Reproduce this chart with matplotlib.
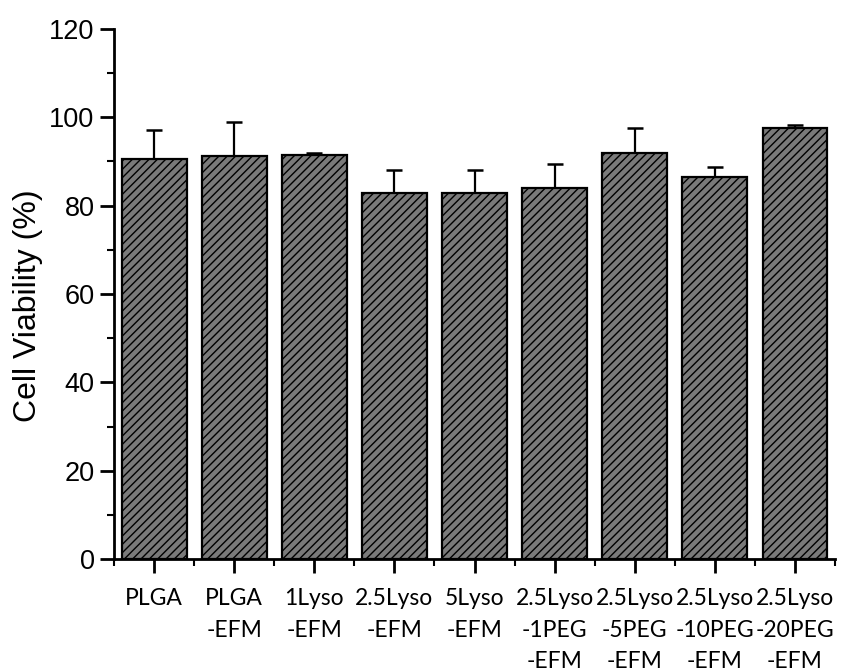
import matplotlib
matplotlib.use("Agg")
import matplotlib.pyplot as plt
import numpy as np

categories = ["PLGA", "PLGA\n-EFM", "1Lyso\n-EFM", "2.5Lyso\n-EFM", "5Lyso\n-EFM",
              "2.5Lyso\n-1PEG\n-EFM", "2.5Lyso\n-5PEG\n-EFM", "2.5Lyso\n-10PEG\n-EFM",
              "2.5Lyso\n-20PEG\n-EFM"]
viability = [90.5, 91.2, 91.5, 82.9, 82.9, 84.1, 91.9, 86.5, 97.6]
errors = [6.7, 7.8, 0.3, 5.2, 5.2, 5.3, 5.6, 2.2, 0.6]
yticks = [0, 20, 40, 60, 80, 100, 120]

plt.rcParams['hatch.linewidth'] = 1.0
fig = plt.figure(figsize=(8.42, 6.72), dpi=100)
ax = fig.add_axes([0.1354, 0.168, 0.8563, 0.789])

x = np.arange(len(categories))
ax.errorbar(x, viability, yerr=[np.zeros(len(errors)), errors], fmt='none',
            ecolor='black', elinewidth=1.6, capsize=6, capthick=1.8, zorder=1)
ax.bar(x, viability, width=0.81, color='#7a7a7a', edgecolor='black',
       linewidth=1.6, hatch='////', zorder=2)

ax.set_xlim(-0.5, len(categories) - 0.5)
ax.set_ylim(0, 120)
ax.set_yticks(yticks)
ax.set_yticks(np.arange(10, 120, 20), minor=True)
ax.set_xticks(x)
ax.set_xticks(np.arange(-0.5, len(categories), 1.0), minor=True)
ax.set_xticklabels(categories, family=['Lato', 'DejaVu Sans'], fontsize=16.5,
                   linespacing=1.62)
for lab in ax.get_yticklabels():
    lab.set_family(['Liberation Sans', 'DejaVu Sans'])
    lab.set_fontsize(19.5)

ax.spines['top'].set_visible(False)
ax.spines['right'].set_visible(False)
ax.spines['left'].set_linewidth(2)
ax.spines['bottom'].set_linewidth(2)
ax.tick_params(axis='both', which='major', direction='out', length=10, width=2)
ax.tick_params(axis='both', which='minor', direction='out', length=5, width=1.5)
ax.tick_params(axis='x', which='major', pad=11)
ax.tick_params(axis='y', which='major', pad=4)

ax.set_ylabel("Cell Viability (%)", family=['Liberation Sans', 'DejaVu Sans'],
              fontsize=23)
ax.yaxis.set_label_coords(-0.098, 0.478)

fig.savefig("out.png", dpi=100)
